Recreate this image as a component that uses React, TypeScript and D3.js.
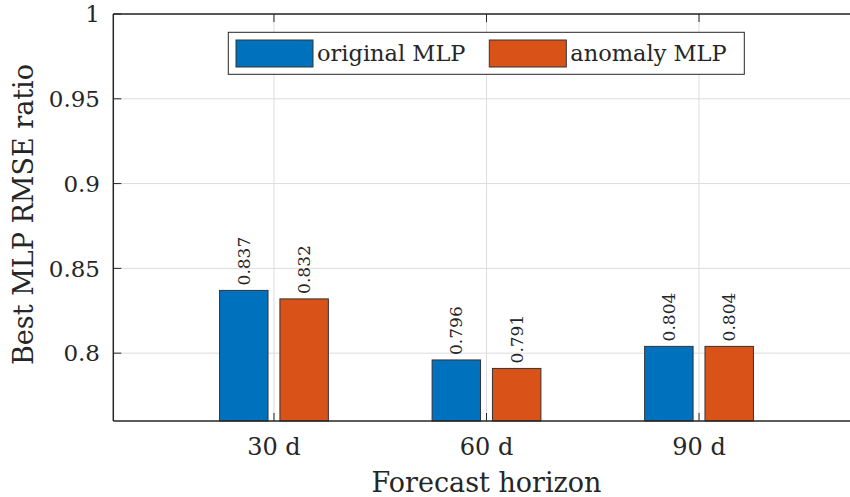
import React from "react";
import * as d3 from "d3";

const categories = ["30 d", "60 d", "90 d"];
const seriesNames = ["original MLP", "anomaly MLP"];
const originalValues = [0.837, 0.796, 0.804];
const anomalyValues = [0.832, 0.791, 0.804];
const yTicks = [0.8, 0.85, 0.9, 0.95, 1];
const yTickLabels = ["0.8", "0.85", "0.9", "0.95", "1"];
const colors = ["#0072BD", "#D95319"];

const W = 850;
const H = 497;
const FONT = "'DejaVu Serif', serif";
const TXT = "#262626";
const ts = (size: number) => ({ fontFamily: FONT, fontSize: size + "px", fill: TXT });

export default function App() {
  const left = 113.3;
  const right = 859.7;
  const top = 14;
  const bottom = 421;
  const x = d3.scaleLinear().domain([0.244, 3.756]).range([left, right]);
  const y = d3.scaleLinear().domain([0.76, 1]).range([bottom, top]);
  const series = [originalValues, anomalyValues];
  const offset = 0.142;
  const bw = 0.228;
  const fmt = d3.format(".3f");

  return (
    <svg width={W} height={H} style={{ position: "absolute", left: 0, top: 0 }}>
      <rect x={0} y={0} width={W} height={H} fill="#fff" />
      {yTicks.map((t) => (
        <line key={"gy" + t} x1={left} x2={right} y1={y(t)} y2={y(t)} stroke="#dcdcdc" strokeWidth={1} />
      ))}
      {categories.map((c, i) => (
        <line key={"gx" + c} x1={x(i + 1)} x2={x(i + 1)} y1={top} y2={bottom} stroke="#dcdcdc" strokeWidth={1} />
      ))}
      {series.map((vals, s) =>
        vals.map((v, i) => {
          const cx = x(i + 1) + (s === 0 ? -1 : 1) * (x(offset) - x(0));
          const w = x(bw) - x(0);
          return (
            <rect
              key={"b" + s + i}
              x={cx - w / 2}
              y={y(v)}
              width={w}
              height={y(0.76) - y(v)}
              fill={colors[s]}
              stroke="#333"
              strokeWidth={1}
            />
          );
        })
      )}
      {series.map((vals, s) =>
        vals.map((v, i) => {
          const cx = x(i + 1) + (s === 0 ? -1 : 1) * (x(offset) - x(0));
          const ty = y(v) - 5;
          return (
            <text
              key={"l" + s + i}
              transform={`translate(${cx},${ty}) rotate(-90)`}
              dy="0.36em"
              style={ts(17)}
              textAnchor="start"
            >
              {fmt(v)}
            </text>
          );
        })
      )}
      <line x1={left} x2={right} y1={bottom} y2={bottom} stroke={TXT} strokeWidth={1.5} />
      <line x1={left} x2={right} y1={top} y2={top} stroke={TXT} strokeWidth={1.5} />
      <line x1={left} x2={left} y1={top} y2={bottom} stroke={TXT} strokeWidth={1.5} />
      {yTicks.map((t, i) => (
        <g key={"yt" + t}>
          <line x1={left} x2={left + 8} y1={y(t)} y2={y(t)} stroke={TXT} strokeWidth={1} />
          <text x={100} y={y(t)} dy="0.36em" textAnchor="end" style={ts(23)}>
            {yTickLabels[i]}
          </text>
        </g>
      ))}
      {categories.map((c, i) => (
        <g key={"xt" + c}>
          <line x1={x(i + 1)} x2={x(i + 1)} y1={bottom} y2={bottom - 8} stroke={TXT} strokeWidth={1} />
          <line x1={x(i + 1)} x2={x(i + 1)} y1={top} y2={top + 8} stroke={TXT} strokeWidth={1} />
          <text x={x(i + 1)} y={455} textAnchor="middle" style={ts(24)}>
            {c}
          </text>
        </g>
      ))}
      <text x={(left + right) / 2} y={492} textAnchor="middle" style={ts(27)}>
        Forecast horizon
      </text>
      <text transform={`translate(33,${(top + bottom) / 2 - 3}) rotate(-90)`} textAnchor="middle" style={ts(27)}>
        Best MLP RMSE ratio
      </text>
      <rect x={228.3} y={32.3} width={516} height={42} fill="#fff" stroke={TXT} strokeWidth={1} />
      {seriesNames.map((n, s) => {
        const sx = s === 0 ? 236 : 489.3;
        return (
          <g key={"lg" + n}>
            <rect x={sx} y={40} width={77} height={27} fill={colors[s]} stroke="#333" strokeWidth={1} />
            <text x={sx + 81} y={61} style={ts(22.5)}>
              {n}
            </text>
          </g>
        );
      })}
    </svg>
  );
}
